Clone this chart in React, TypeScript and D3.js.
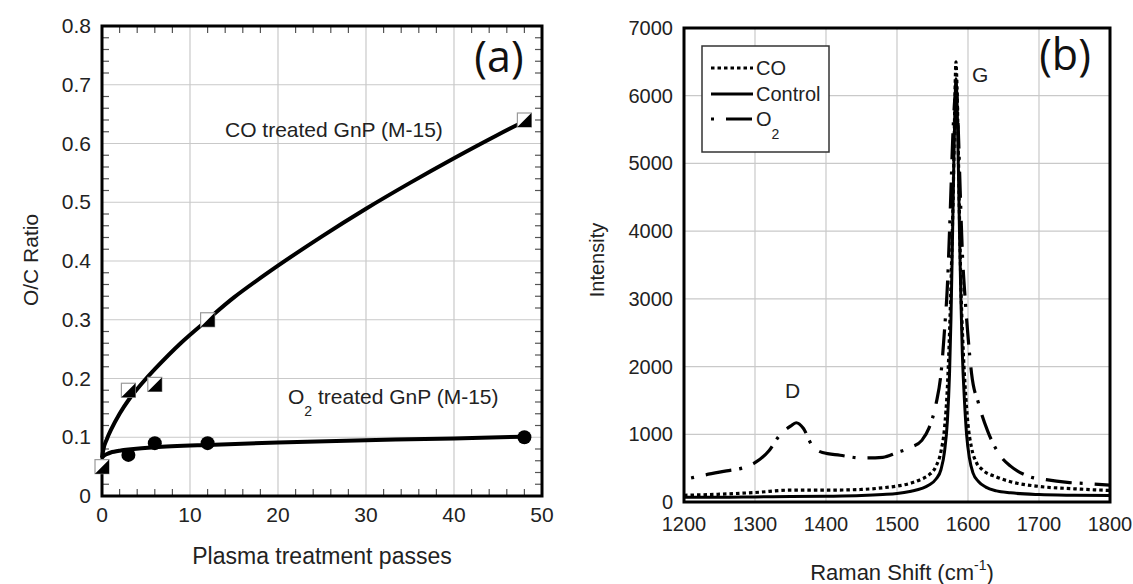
import React, { useEffect, useRef } from 'react';
import * as d3 from 'd3';

const W = 1133;
const H = 584;
const FONT = '"Liberation Sans", Arial, sans-serif';

// ---- panel (a): O/C ratio vs plasma passes ----
const coPasses = [0, 3, 6, 12, 48];
const coRatio = [0.05, 0.18, 0.19, 0.30, 0.64];
const o2Passes = [3, 6, 12, 48];
const o2Ratio = [0.07, 0.09, 0.09, 0.10];
// fitted curves
const coFit = [[0, 0.065], [0.25, 0.085], [0.5, 0.095], [1, 0.112], [2, 0.14], [3, 0.163], [4.5, 0.191], [6, 0.216], [9, 0.261], [12, 0.3], [15, 0.338], [20, 0.392], [25, 0.442], [30, 0.489], [35, 0.533], [40, 0.575], [45, 0.615], [48, 0.638]];
const o2Fit = [[0, 0.065], [0.25, 0.069], [0.5, 0.071], [1, 0.074], [2, 0.077], [3, 0.079], [6, 0.083], [12, 0.087], [20, 0.091], [30, 0.095], [40, 0.098], [48, 0.101]];
const aXTicks = [0, 10, 20, 30, 40, 50];
const aYTicks = [0, 0.1, 0.2, 0.3, 0.4, 0.5, 0.6, 0.7, 0.8];

// ---- panel (b): Raman spectra ----
const ramanControl = [[1200, 70], [1250, 70], [1300, 75], [1350, 80], [1400, 85], [1450, 95], [1480, 110], [1500, 125], [1520, 160], [1535, 200], [1545, 250], [1555, 340], [1562, 480], [1567, 750], [1571, 1200], [1574, 1900], [1576, 2700], [1578, 3800], [1580, 5000], [1582, 6000], [1583, 6250], [1584, 6100], [1586, 5200], [1588, 4000], [1590, 3000], [1592, 2200], [1595, 1500], [1598, 1000], [1602, 650], [1607, 430], [1615, 300], [1625, 220], [1640, 165], [1660, 135], [1700, 110], [1750, 100], [1800, 95]];
const ramanCO = [[1200, 100], [1250, 115], [1300, 140], [1350, 175], [1400, 175], [1450, 185], [1480, 210], [1500, 235], [1520, 280], [1535, 340], [1545, 400], [1555, 530], [1562, 750], [1567, 1100], [1571, 1700], [1574, 2500], [1577, 3600], [1580, 5000], [1582, 6200], [1583, 6500], [1584, 6300], [1586, 5400], [1588, 4200], [1590, 3200], [1593, 2300], [1596, 1700], [1600, 1150], [1605, 800], [1612, 580], [1620, 480], [1640, 370], [1660, 300], [1700, 230], [1750, 195], [1800, 170]];
const ramanO2 = [[1210, 355], [1230, 400], [1260, 460], [1285, 510], [1300, 580], [1320, 760], [1335, 990], [1350, 1120], [1358, 1170], [1368, 1090], [1380, 840], [1395, 730], [1420, 690], [1450, 650], [1480, 660], [1500, 730], [1520, 810], [1535, 910], [1545, 1090], [1555, 1450], [1562, 1900], [1567, 2550], [1571, 3200], [1575, 4300], [1579, 5500], [1582, 6000], [1584, 6050], [1586, 5600], [1589, 4600], [1592, 3700], [1596, 3000], [1600, 2450], [1605, 1900], [1615, 1450], [1628, 1040], [1645, 690], [1660, 530], [1685, 380], [1710, 330], [1740, 290], [1770, 270], [1800, 250]];
const bXTicks = [1200, 1300, 1400, 1500, 1600, 1700, 1800];
const bYTicks = [0, 1000, 2000, 3000, 4000, 5000, 6000, 7000];

const legendItems = [
  { label: 'CO', dash: '3.5,3' },
  { label: 'Control', dash: null },
  { label: 'O', sub: '2', dash: '3,12,26,8' },
];

function drawFrame(g, x, y, xTicks, yTicks, xMinor, yMinor, fmtY, fontSize, xLabelOff) {
  const [x0, x1] = x.range();
  const [y0, y1] = y.range(); // y0 bottom, y1 top

  // grid
  g.append('g').selectAll('line')
    .data(xTicks.slice(1, -1)).join('line')
    .attr('x1', d => x(d)).attr('x2', d => x(d)).attr('y1', y0).attr('y2', y1)
    .attr('stroke', '#c9c9c9').attr('stroke-width', 1.2);
  g.append('g').selectAll('line')
    .data(yTicks.slice(1, -1)).join('line')
    .attr('y1', d => y(d)).attr('y2', d => y(d)).attr('x1', x0).attr('x2', x1)
    .attr('stroke', '#c9c9c9').attr('stroke-width', 1.2);

  // minor ticks on all four sides (inside)
  const tl = 7;
  const tick = (sel) => sel.attr('stroke', '#555').attr('stroke-width', 1.2);
  tick(g.append('g').selectAll('line').data(xMinor).join('line')
    .attr('x1', d => x(d)).attr('x2', d => x(d)).attr('y1', y0).attr('y2', y0 - tl));
  tick(g.append('g').selectAll('line').data(xMinor).join('line')
    .attr('x1', d => x(d)).attr('x2', d => x(d)).attr('y1', y1).attr('y2', y1 + tl));
  tick(g.append('g').selectAll('line').data(yMinor).join('line')
    .attr('y1', d => y(d)).attr('y2', d => y(d)).attr('x1', x0).attr('x2', x0 + tl));
  tick(g.append('g').selectAll('line').data(yMinor).join('line')
    .attr('y1', d => y(d)).attr('y2', d => y(d)).attr('x1', x1).attr('x2', x1 - tl));

  // tick labels
  g.append('g').selectAll('text')
    .data(xTicks).join('text')
    .attr('x', d => x(d)).attr('y', y0 + xLabelOff)
    .attr('text-anchor', 'middle')
    .attr('font-family', FONT).attr('font-size', fontSize).attr('fill', '#222')
    .text(d => d);
  g.append('g').selectAll('text')
    .data(yTicks).join('text')
    .attr('x', x0 - 11).attr('y', d => y(d) + 7)
    .attr('text-anchor', 'end')
    .attr('font-family', FONT).attr('font-size', fontSize).attr('fill', '#222')
    .text(d => fmtY(d));
}

function addFrameBox(g, x, y) {
  const [x0, x1] = x.range();
  const [y0, y1] = y.range();
  g.append('rect')
    .attr('x', x0).attr('y', y1).attr('width', x1 - x0).attr('height', y0 - y1)
    .attr('fill', 'none').attr('stroke', '#000').attr('stroke-width', 3);
}

function App() {
  const svgRef = useRef(null);

  useEffect(() => {
    const svg = d3.select(svgRef.current);
    svg.selectAll('*').remove();

    // ================= panel (a) =================
    const xa = d3.scaleLinear().domain([0, 50]).range([102, 542]);
    const ya = d3.scaleLinear().domain([0, 0.8]).range([496, 26]);
    const ga = svg.append('g');

    drawFrame(ga, xa, ya, aXTicks, aYTicks,
      d3.range(2, 50, 2).filter(d => d % 10 !== 0),
      d3.range(0.02, 0.8, 0.02).filter(d => Math.abs(d * 10 - Math.round(d * 10)) > 0.01),
      d => (d === 0 ? '0' : d3.format('.1f')(d)), 21, 26);

    const lineA = d3.line().x(d => xa(d[0])).y(d => ya(d[1])).curve(d3.curveCatmullRom);
    ga.append('path').attr('d', lineA(coFit))
      .attr('fill', 'none').attr('stroke', '#000').attr('stroke-width', 4);
    ga.append('path').attr('d', lineA(o2Fit))
      .attr('fill', 'none').attr('stroke', '#000').attr('stroke-width', 4);

    addFrameBox(ga, xa, ya);

    // half-filled square markers (CO)
    const s = 14;
    const sq = ga.append('g').selectAll('g')
      .data(coPasses.map((p, i) => [p, coRatio[i]])).join('g')
      .attr('transform', d => `translate(${xa(d[0])},${ya(d[1])})`);
    sq.append('rect')
      .attr('x', -s / 2).attr('y', -s / 2).attr('width', s).attr('height', s)
      .attr('fill', '#fff').attr('stroke', '#9a9a9a').attr('stroke-width', 1.2);
    sq.append('path')
      .attr('d', `M${-s / 2},${s / 2}L${s / 2},${s / 2}L${s / 2},${-s / 2}Z`)
      .attr('fill', '#000');

    // filled circles (O2)
    ga.append('g').selectAll('circle')
      .data(o2Passes.map((p, i) => [p, o2Ratio[i]])).join('circle')
      .attr('cx', d => xa(d[0])).attr('cy', d => ya(d[1])).attr('r', 7)
      .attr('fill', '#000');

    ga.append('text').attr('x', 225).attr('y', 137)
      .attr('font-family', FONT).attr('font-size', 21).attr('fill', '#222')
      .text('CO treated GnP (M-15)');
    const o2lab = ga.append('text').attr('x', 288).attr('y', 404)
      .attr('font-family', FONT).attr('font-size', 21).attr('fill', '#222');
    o2lab.append('tspan').text('O');
    o2lab.append('tspan').attr('dy', 12).attr('font-size', 14).text('2');
    o2lab.append('tspan').attr('dy', -12).text(' treated GnP (M-15)');

    ga.append('text').attr('x', 499).attr('y', 72).attr('text-anchor', 'middle')
      .attr('font-family', '"Open Sans", sans-serif').attr('font-size', 43).attr('fill', '#111')
      .text('(a)');

    ga.append('text').attr('x', 322).attr('y', 564).attr('text-anchor', 'middle')
      .attr('font-family', FONT).attr('font-size', 23).attr('fill', '#222')
      .text('Plasma treatment passes');
    ga.append('text').attr('transform', 'translate(38,260) rotate(-90)')
      .attr('text-anchor', 'middle')
      .attr('font-family', FONT).attr('font-size', 21).attr('fill', '#222')
      .text('O/C Ratio');

    // ================= panel (b) =================
    const xb = d3.scaleLinear().domain([1200, 1800]).range([684, 1110]);
    const yb = d3.scaleLinear().domain([0, 7000]).range([502, 28]);
    const gb = svg.append('g');

    drawFrame(gb, xb, yb, bXTicks, bYTicks, [], [], d => d, 20, 29);

    svg.append('defs').append('clipPath').attr('id', 'clipB')
      .append('rect').attr('x', 684).attr('y', 28).attr('width', 426).attr('height', 474);

    const lineB = d3.line().x(d => xb(d[0])).y(d => yb(d[1])).curve(d3.curveMonotoneX);
    const lines = gb.append('g').attr('clip-path', 'url(#clipB)');
    lines.append('path').attr('d', lineB(ramanO2))
      .attr('fill', 'none').attr('stroke', '#000').attr('stroke-width', 3.2)
      .attr('stroke-dasharray', '3,12,26,8');
    lines.append('path').attr('d', lineB(ramanControl))
      .attr('fill', 'none').attr('stroke', '#000').attr('stroke-width', 3);
    lines.append('path').attr('d', lineB(ramanCO))
      .attr('fill', 'none').attr('stroke', '#000').attr('stroke-width', 3.2)
      .attr('stroke-dasharray', '3.5,3');

    addFrameBox(gb, xb, yb);

    // legend
    gb.append('rect').attr('x', 702).attr('y', 46).attr('width', 127).attr('height', 106)
      .attr('fill', '#fff').attr('stroke', '#333').attr('stroke-width', 1.5);
    const rowY = [68, 94, 119];
    const baseY = [75, 101, 126];
    legendItems.forEach((it, i) => {
      const ln = gb.append('line')
        .attr('x1', 711).attr('x2', 753).attr('y1', rowY[i]).attr('y2', rowY[i])
        .attr('stroke', '#000').attr('stroke-width', 3);
      if (it.dash) ln.attr('stroke-dasharray', it.dash);
      const t = gb.append('text').attr('x', 756).attr('y', baseY[i])
        .attr('font-family', FONT).attr('font-size', 20).attr('fill', '#222');
      t.append('tspan').text(it.label);
      if (it.sub) t.append('tspan').attr('dy', 13).attr('font-size', 14).text(it.sub);
    });

    gb.append('text').attr('x', 972).attr('y', 82)
      .attr('font-family', FONT).attr('font-size', 21).attr('fill', '#222').text('G');
    gb.append('text').attr('x', 785).attr('y', 398)
      .attr('font-family', FONT).attr('font-size', 21).attr('fill', '#222').text('D');

    gb.append('text').attr('x', 1065).attr('y', 70).attr('text-anchor', 'middle')
      .attr('font-family', '"Open Sans", sans-serif').attr('font-size', 43).attr('fill', '#111')
      .text('(b)');

    const xt = gb.append('text').attr('x', 902).attr('y', 580).attr('text-anchor', 'middle')
      .attr('font-family', FONT).attr('font-size', 22).attr('fill', '#222');
    xt.append('tspan').text('Raman Shift (cm');
    xt.append('tspan').attr('dy', -10).attr('font-size', 14).text('-1');
    xt.append('tspan').attr('dy', 10).text(')');

    gb.append('text').attr('transform', 'translate(604,260) rotate(-90)')
      .attr('text-anchor', 'middle')
      .attr('font-family', FONT).attr('font-size', 20).attr('fill', '#222')
      .text('Intensity');
  }, []);

  return (
    <svg ref={svgRef} width={W} height={H}
      style={{ position: 'absolute', left: 0, top: 0, background: '#fff' }}></svg>
  );
}

export default App;
